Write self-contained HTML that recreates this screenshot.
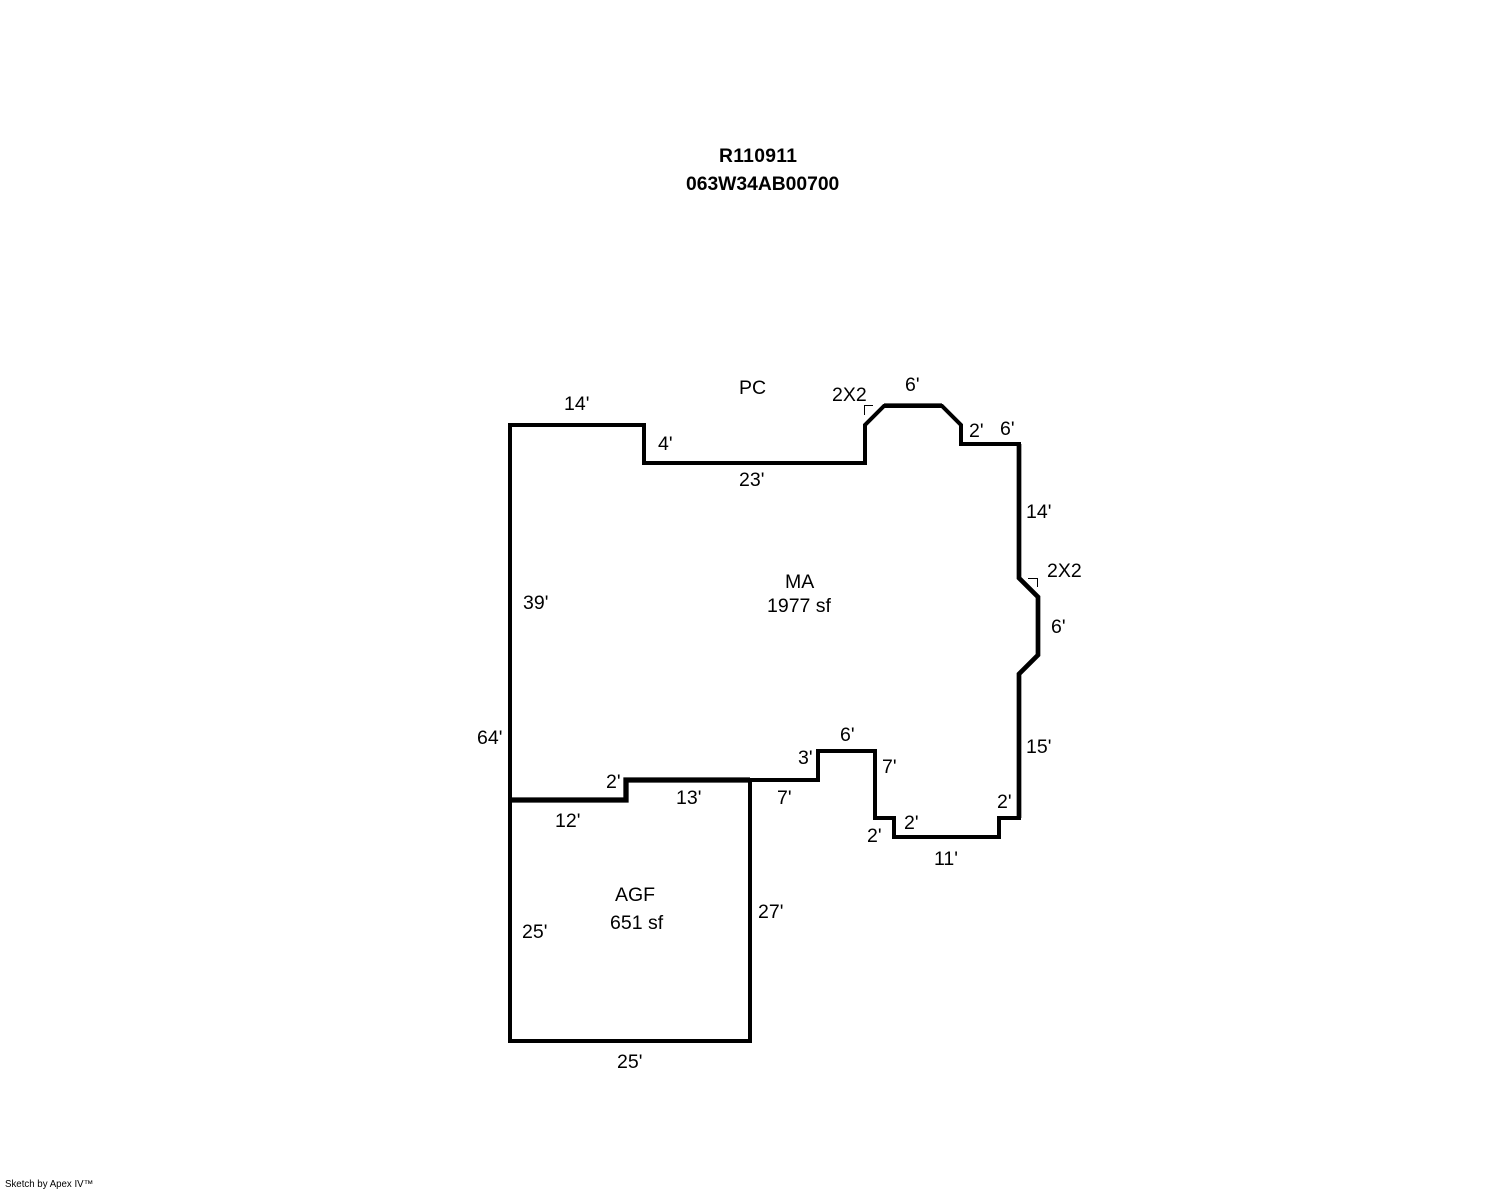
<!DOCTYPE html>
<html>
<head>
<meta charset="utf-8">
<style>
html,body{margin:0;padding:0;background:#fff;width:1488px;height:1190px;overflow:hidden}
svg{display:block}
text{font-family:"Liberation Sans",Arial,sans-serif;font-size:19.5px;fill:#000}
.b{font-weight:bold;font-size:19.3px}
.s{font-size:9.7px}
</style>
</head>
<body>
<svg width="1488" height="1190" viewBox="0 0 1488 1190" xmlns="http://www.w3.org/2000/svg">
<rect width="1488" height="1190" fill="#fff"/>
<g fill="none" stroke="#000" stroke-width="4" stroke-linejoin="miter">
<path d="M510 800V425H644V463H865V425L884 406H942L961 425V444H1019V578L1038 597V655L1019 674V818H999V837H894V818H875V751H818V780H626V800Z"/>
<path d="M510 800V1041H750V780"/>
</g>
<g fill="none" stroke="#000" stroke-width="4.7">
<path d="M884 405.7H942"/>
<path d="M1019 444V578L1038 597V655L1019 674V818"/>
</g>
<path d="M510 800H626V780H750" fill="none" stroke="#000" stroke-width="5.3"/>
<g fill="none" stroke="#000" stroke-width="1">
<path d="M864.5 415V405.5H873"/>
<path d="M1028 578.5H1037.5V587"/>
</g>
<text class="b" x="719" y="162" letter-spacing="0.3">R110911</text>
<text class="b" x="686" y="190">063W34AB00700</text>
<text x="564" y="410">14'</text>
<text x="739" y="394">PC</text>
<text x="832" y="401">2X2</text>
<text x="905" y="391">6'</text>
<text x="969" y="437">2'</text>
<text x="1000" y="435">6'</text>
<text x="658" y="450">4'</text>
<text x="739" y="486">23'</text>
<text x="1026" y="518">14'</text>
<text x="1047" y="577">2X2</text>
<text x="1051" y="633">6'</text>
<text x="785" y="588">MA</text>
<text x="767" y="612">1977 sf</text>
<text x="523" y="609">39'</text>
<text x="477" y="744">64'</text>
<text x="1026" y="753">15'</text>
<text x="840" y="741">6'</text>
<text x="798" y="764">3'</text>
<text x="882" y="773">7'</text>
<text x="606" y="788">2'</text>
<text x="676" y="804">13'</text>
<text x="777" y="804">7'</text>
<text x="555" y="827">12'</text>
<text x="997" y="808">2'</text>
<text x="904" y="829">2'</text>
<text x="867" y="842">2'</text>
<text x="934" y="865">11'</text>
<text x="615" y="901">AGF</text>
<text x="610" y="929">651 sf</text>
<text x="522" y="938">25'</text>
<text x="758" y="918">27'</text>
<text x="617" y="1068">25'</text>
<text class="s" x="5" y="1187">Sketch by Apex IV™</text>
</svg>
</body>
</html>
